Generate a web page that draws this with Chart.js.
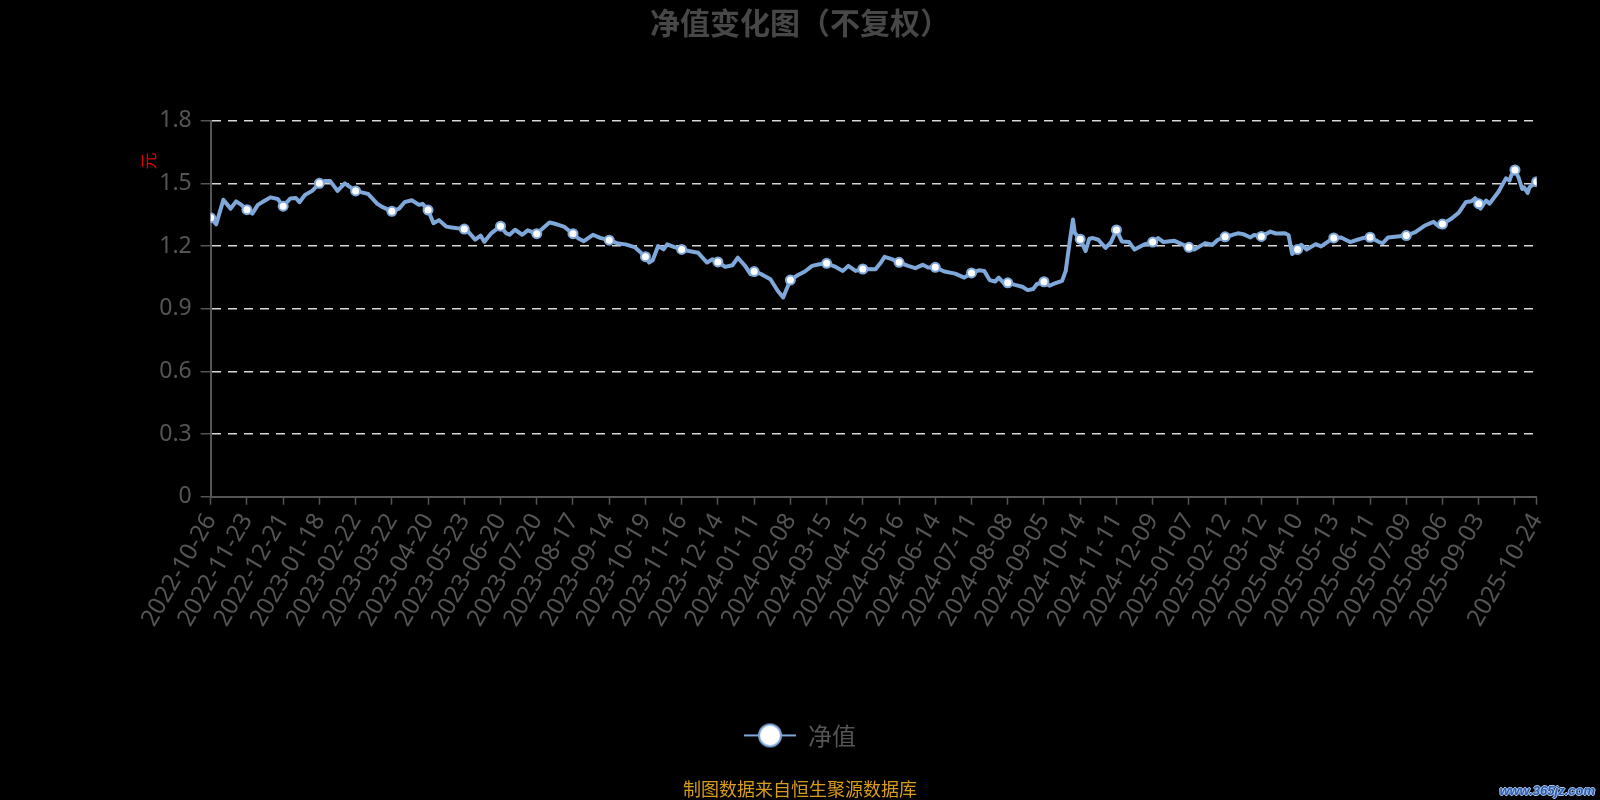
<!DOCTYPE html>
<html>
<head>
<meta charset="utf-8">
<script src="https://cdn.jsdelivr.net/npm/chart.js@4.4.1/dist/chart.umd.min.js"></script>
<style>
  html, body { margin: 0; padding: 0; background: #000; }
  #wrap { position: relative; width: 1600px; height: 800px; }
  #mark {
    position: absolute; right: 5px; bottom: 2px;
    font: italic bold 13px "Liberation Sans", sans-serif; color: #2f5cab;
    text-shadow: -1px 0 #a9c4ee, 1px 0 #a9c4ee, 0 -1px #a9c4ee, 0 1px #a9c4ee;
  }
</style>
</head>
<body>
<div id="wrap">
  <canvas id="graficoNav"></canvas>
  <span id="mark">www.365jz.com</span>
</div>
<script>
// indices de pregao (dias uteis desde 2022-10-26) e valores
var sampleIdx = [0, 3, 7, 11, 14, 17, 20, 23, 26, 30, 33, 37, 40, 44, 47, 49, 52, 56, 60, 63, 66, 70, 74, 80, 85, 87, 92, 95,
    100, 104, 107, 111, 115, 117, 120, 123, 126, 130, 133, 140, 142, 146, 149, 151, 155, 160, 163, 165, 168, 172, 175, 180,
    184, 187, 191, 195, 200, 203, 206, 211, 215, 220, 225, 229, 234, 240, 242, 244, 247, 250, 252, 256, 260, 264, 269, 274,
    277, 280, 284, 288, 291, 295, 298, 300, 304, 309, 313, 316, 320, 324, 328, 332, 336, 340, 345, 349, 352, 356, 360, 367,
    370, 372, 376, 380, 385, 389, 393, 396, 400, 405, 411, 416, 420, 424, 427, 430, 433, 435, 438, 440, 444, 448, 451, 454,
    456, 460, 463, 466, 470, 472, 474, 476, 477, 480, 483, 485, 487, 490, 494, 497, 500, 503, 507, 510, 515, 520, 523, 526,
    532, 536, 540, 543, 549, 553, 556, 560, 564, 567, 570, 574, 576, 580, 585, 588, 593, 595, 597, 600, 602, 605, 610, 613,
    617, 620, 624, 629, 633, 636, 640, 645, 647, 650, 655, 660, 665, 670, 675, 678, 680, 685, 689, 693, 696, 698, 700, 701,
    704, 706, 708, 711, 715, 717, 718, 720, 722, 724, 725, 727, 728, 732];
var navValues = [1.335, 1.304, 1.421, 1.379, 1.414, 1.397, 1.374, 1.355, 1.397, 1.418, 1.433, 1.425, 1.391, 1.428, 1.430, 1.410,
    1.444, 1.464, 1.500, 1.511, 1.511, 1.464, 1.500, 1.464, 1.453, 1.449, 1.402, 1.386,
    1.366, 1.379, 1.410, 1.419, 1.397, 1.402, 1.372, 1.309, 1.324, 1.293, 1.289, 1.281, 1.270, 1.231, 1.250, 1.220, 1.262,
    1.295, 1.262, 1.254, 1.278, 1.254, 1.275, 1.259,
    1.290, 1.313, 1.304, 1.293, 1.259, 1.236, 1.223, 1.254, 1.239, 1.228, 1.212, 1.208, 1.195, 1.149, 1.121, 1.132, 1.200,
    1.184, 1.208, 1.195, 1.184, 1.176, 1.168, 1.121,
    1.137, 1.124, 1.100, 1.108, 1.144, 1.105, 1.065, 1.078, 1.065, 1.041, 0.986, 0.954, 1.037, 1.060, 1.078, 1.105, 1.113,
    1.117, 1.100, 1.081, 1.105, 1.081, 1.090, 1.089,
    1.121, 1.148, 1.137, 1.122, 1.105, 1.094, 1.110, 1.097, 1.098, 1.078, 1.068, 1.049, 1.071, 1.084, 1.081, 1.037, 1.030,
    1.049, 1.021, 1.024, 1.014, 1.005, 0.989, 0.994,
    1.017, 1.029, 1.010, 1.021, 1.033, 1.081, 1.208, 1.327, 1.263, 1.233, 1.176, 1.235, 1.238, 1.230, 1.191, 1.219, 1.277,
    1.222, 1.219, 1.183, 1.206, 1.219, 1.238, 1.219,
    1.225, 1.209, 1.194, 1.183, 1.214, 1.206, 1.230, 1.244, 1.253, 1.261, 1.257, 1.241, 1.253, 1.246, 1.269, 1.260, 1.261,
    1.253, 1.162, 1.184, 1.206, 1.183, 1.209, 1.198,
    1.222, 1.239, 1.241, 1.219, 1.230, 1.238, 1.242, 1.219, 1.214, 1.241, 1.246, 1.250, 1.266, 1.297, 1.316, 1.293, 1.305,
    1.332, 1.360, 1.411, 1.414, 1.429, 1.403, 1.379,
    1.418, 1.403, 1.426, 1.461, 1.524, 1.513, 1.539, 1.564, 1.528, 1.473, 1.481, 1.454, 1.481, 1.508];

// eixo x: posicoes dos ticks e datas
var tickIdx = [0, 20, 40, 60, 80, 100, 120, 140, 160, 180, 200, 220, 240, 260, 280, 300, 320, 340, 360, 380, 400, 420,
    440, 460, 480, 500, 520, 540, 560, 580, 600, 620, 640, 660, 680, 700, 720, 732];
var tickDates = ['2022-10-26', '2022-11-23', '2022-12-21', '2023-01-18', '2023-02-22', '2023-03-22', '2023-04-20',
    '2023-05-23', '2023-06-20', '2023-07-20', '2023-08-17', '2023-09-14', '2023-10-19', '2023-11-16', '2023-12-14',
    '2024-01-11', '2024-02-08', '2024-03-15', '2024-04-15', '2024-05-16', '2024-06-14', '2024-07-11', '2024-08-08',
    '2024-09-05', '2024-10-14', '2024-11-11', '2024-12-09', '2025-01-07', '2025-02-12', '2025-03-12', '2025-04-10',
    '2025-05-13', '2025-06-11', '2025-07-09', '2025-08-06', '2025-09-03', '', '2025-10-24'];
var yTicks = [0, 0.3, 0.6, 0.9, 1.2, 1.5, 1.8];

var corLinha = '#7ea7da';
var fonte = '"Noto Sans", "Noto Sans CJK SC", sans-serif';
var lastIdx = sampleIdx[sampleIdx.length - 1];

// icone da legenda: linha com circulo
var iconeLegenda = document.createElement('canvas');
iconeLegenda.width = 52;
iconeLegenda.height = 28;
(function () {
    var c = iconeLegenda.getContext('2d');
    c.strokeStyle = corLinha;
    c.lineWidth = 2;
    c.beginPath(); c.moveTo(0, 14); c.lineTo(52, 14); c.stroke();
    c.beginPath(); c.arc(26, 14, 11, 0, Math.PI * 2);
    c.fillStyle = '#fff'; c.fill(); c.stroke();
})();

// "元" vertical ao lado do eixo y
var unidadeY = {
    id: 'unidadeY',
    afterDraw: function (chart) {
        var c = chart.ctx;
        c.save();
        c.translate(148.5, 161);
        c.rotate(-Math.PI / 2);
        c.fillStyle = '#e00000';
        c.font = '17px "Noto Sans CJK SC"';
        c.textAlign = 'center';
        c.textBaseline = 'middle';
        c.fillText('元', 0, 0);
        c.restore();
    }
};

var ctx = document.getElementById('graficoNav').getContext('2d');
var graficoNav = new Chart(ctx, {
    type: 'line',
    data: {
        datasets: [{
            label: '净值',
            data: sampleIdx.map(function (x, i) { return { x: x, y: navValues[i] }; }),
            borderColor: corLinha,
            borderWidth: 4,
            borderJoinStyle: 'round',
            tension: 0,
            pointRadius: function (c) {
                var x = c.raw ? c.raw.x : -1;
                return (x % 20 === 0 || x === lastIdx) ? 4.5 : 0;
            },
            pointBorderWidth: 2,
            pointBorderColor: corLinha,
            pointBackgroundColor: '#fff'
        }]
    },
    options: {
        responsive: true,
        maintainAspectRatio: false,
        animation: false,
        events: [],
        layout: { padding: { left: 63.3, right: 63.3, top: 0, bottom: 0 } },
        plugins: {
            title: {
                display: true,
                text: '净值变化图（不复权）',
                color: '#474747',
                font: { family: '"Noto Sans CJK SC"', size: 30, weight: 'bold' },
                padding: { top: 4.5, bottom: 80.2 }
            },
            legend: {
                position: 'bottom',
                labels: {
                    usePointStyle: true,
                    pointStyle: iconeLegenda,
                    pointStyleWidth: 52,
                    color: '#555',
                    padding: 10,
                    font: { family: '"Noto Sans CJK SC"', size: 24 }
                }
            },
            subtitle: {
                display: true,
                position: 'bottom',
                text: '制图数据来自恒生聚源数据库',
                color: '#d89c1b',
                font: { family: '"Noto Sans CJK SC"', size: 18 },
                padding: { top: 21, bottom: 0 }
            },
            tooltip: { enabled: false }
        },
        scales: {
            x: {
                type: 'linear',
                min: 0,
                max: lastIdx,
                afterFit: function (scale) { scale.height = 216.7; },
                afterBuildTicks: function (scale) {
                    scale.ticks = tickIdx.map(function (v) { return { value: v }; });
                },
                grid: { drawOnChartArea: false, tickLength: 8, tickColor: '#555', tickWidth: 1.5 },
                border: { color: '#555', width: 2 },
                ticks: {
                    autoSkip: false,
                    minRotation: 60,
                    maxRotation: 60,
                    padding: 4,
                    color: '#555',
                    font: { family: fonte, size: 24 },
                    callback: function (value) {
                        var i = tickIdx.indexOf(value);
                        return i >= 0 ? tickDates[i] : '';
                    }
                }
            },
            y: {
                min: 0,
                max: 1.8,
                afterFit: function (scale) { scale.width = 147.4; },
                afterBuildTicks: function (scale) {
                    scale.ticks = yTicks.map(function (v) { return { value: v }; });
                },
                grid: {
                    color: function (c) { return c.tick && c.tick.value === 0 ? 'rgba(0,0,0,0)' : '#d8d8d8'; },
                    lineWidth: 1.5,
                    tickLength: 10,
                    tickColor: '#555',
                    tickWidth: 1.5
                },
                border: { color: '#555', width: 2, dash: [9, 7] },
                ticks: {
                    padding: 9,
                    color: '#555',
                    font: { family: fonte, size: 23 },
                    callback: function (value) { return value === 0 ? '0' : value.toFixed(1); }
                }
            }
        }
    },
    plugins: [unidadeY]
});
</script>
</body>
</html>
